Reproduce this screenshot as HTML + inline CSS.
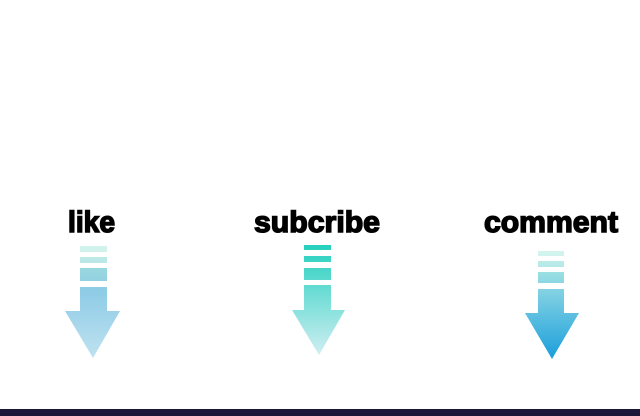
<!DOCTYPE html>
<html><head><style>html,body{margin:0;padding:0;background:#fff;width:640px;height:416px;overflow:hidden}</style></head>
<body>
<svg width="640" height="416" viewBox="0 0 640 416" xmlns="http://www.w3.org/2000/svg">
<defs>
<linearGradient id="g1" gradientUnits="userSpaceOnUse" x1="0" y1="245" x2="0" y2="358">
<stop offset="0" stop-color="#a6e6d8"/><stop offset="0.4" stop-color="#8ecbe6"/><stop offset="1" stop-color="#bfe2f0"/></linearGradient>
<linearGradient id="g2" gradientUnits="userSpaceOnUse" x1="0" y1="245" x2="0" y2="355">
<stop offset="0" stop-color="#25d0bd"/><stop offset="0.35" stop-color="#5fdad0"/><stop offset="1" stop-color="#d0eef2"/></linearGradient>
<linearGradient id="g3" gradientUnits="userSpaceOnUse" x1="0" y1="251" x2="0" y2="359">
<stop offset="0" stop-color="#b8eee2"/><stop offset="0.4" stop-color="#7dcfe3"/><stop offset="1" stop-color="#1a9edb"/></linearGradient>
</defs>
<g font-family="Liberation Sans, sans-serif" font-weight="bold" fill="#000" stroke="#000" stroke-width="1.5">
<text x="68" y="232" font-size="30" textLength="47" lengthAdjust="spacingAndGlyphs">like</text>
<text x="254" y="232" font-size="30" textLength="126" lengthAdjust="spacingAndGlyphs">subcribe</text>
<text x="484" y="232" font-size="30" textLength="134" lengthAdjust="spacingAndGlyphs">comment</text>
</g>
<g fill="url(#g1)">
<rect x="80" y="246" width="27" height="6" opacity="0.5"/>
<rect x="80" y="257" width="27" height="6" opacity="0.7"/>
<rect x="80" y="268" width="27" height="13"/>
<rect x="80" y="287" width="27" height="25"/>
<polygon points="65,311 120,311 93,358"/>
</g>
<g fill="url(#g2)">
<rect x="304" y="245" width="27" height="5"/>
<rect x="304" y="256" width="27" height="6"/>
<rect x="304" y="268" width="27" height="12"/>
<rect x="304" y="285" width="27" height="26"/>
<polygon points="292,310 345,310 319,355"/>
</g>
<g fill="url(#g3)">
<rect x="538" y="251" width="26" height="5" opacity="0.6"/>
<rect x="538" y="261" width="26" height="6" opacity="0.8"/>
<rect x="538" y="272" width="26" height="11"/>
<rect x="538" y="289" width="26" height="25"/>
<polygon points="525,313 579,313 552,359"/>
</g>
<rect x="0" y="409" width="640" height="7" fill="#1a1838"/>
</svg>
</body></html>
